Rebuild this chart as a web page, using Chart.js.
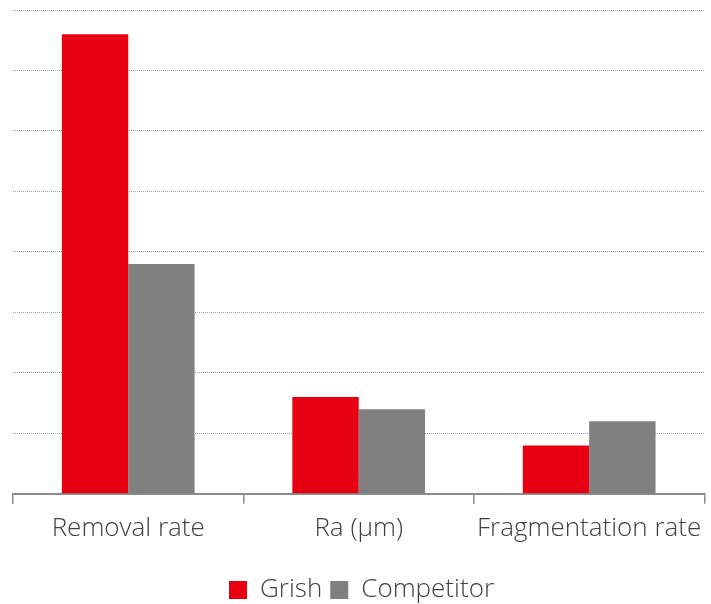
<!DOCTYPE html>
<html>
<head>
<meta charset="utf-8">
<script src="https://cdn.jsdelivr.net/npm/chart.js@4"></script>
<style>
  html, body { margin: 0; padding: 0; background: #fff; }
  #wrap { width: 711px; height: 604px; }
</style>
</head>
<body>
<div id="wrap"><canvas id="c" width="711" height="604"></canvas></div>
<script>
const categories = ['Removal rate', 'Ra (μm)', 'Fragmentation rate'];
const grishValues = [7.6, 1.6, 0.8];
const competitorValues = [3.8, 1.4, 1.2];
const seriesNames = ['Grish', 'Competitor'];

const labelFont = { family: 'Open Sans', size: 26, weight: '300' };

const ctx = document.getElementById('c');
new Chart(ctx, {
  type: 'bar',
  data: {
    labels: categories,
    datasets: [
      { label: seriesNames[0], data: grishValues, backgroundColor: '#E60012', barPercentage: 1, categoryPercentage: 0.576 },
      { label: seriesNames[1], data: competitorValues, backgroundColor: '#808080', barPercentage: 1, categoryPercentage: 0.576 }
    ]
  },
  options: {
    responsive: false,
    animation: false,
    layout: { padding: { left: 13, right: 1, top: 10, bottom: -9 } },
    plugins: {
      tooltip: { enabled: false },
      legend: {
        position: 'bottom',
        labels: {
          boxWidth: 18, boxHeight: 18, padding: 8,
          color: '#404040',
          font: labelFont
        }
      }
    },
    scales: {
      x: {
        offset: true,
        grid: { display: true, drawOnChartArea: false, drawTicks: true, tickLength: 10, color: '#8c8c8c', lineWidth: 1.5, offset: true },
        border: { display: true, color: '#8c8c8c', width: 2 },
        ticks: { color: '#404040', padding: 9.5, font: labelFont, maxRotation: 0 },
        afterFit: (scale) => { scale.height += 15; }
      },
      y: {
        min: 0, max: 8,
        ticks: { display: false, stepSize: 1 },
        grid: { color: '#a0a0a0', lineWidth: 1, drawTicks: false },
        border: { display: false, dash: [1, 1] }
      }
    }
  }
});
</script>
</body>
</html>
